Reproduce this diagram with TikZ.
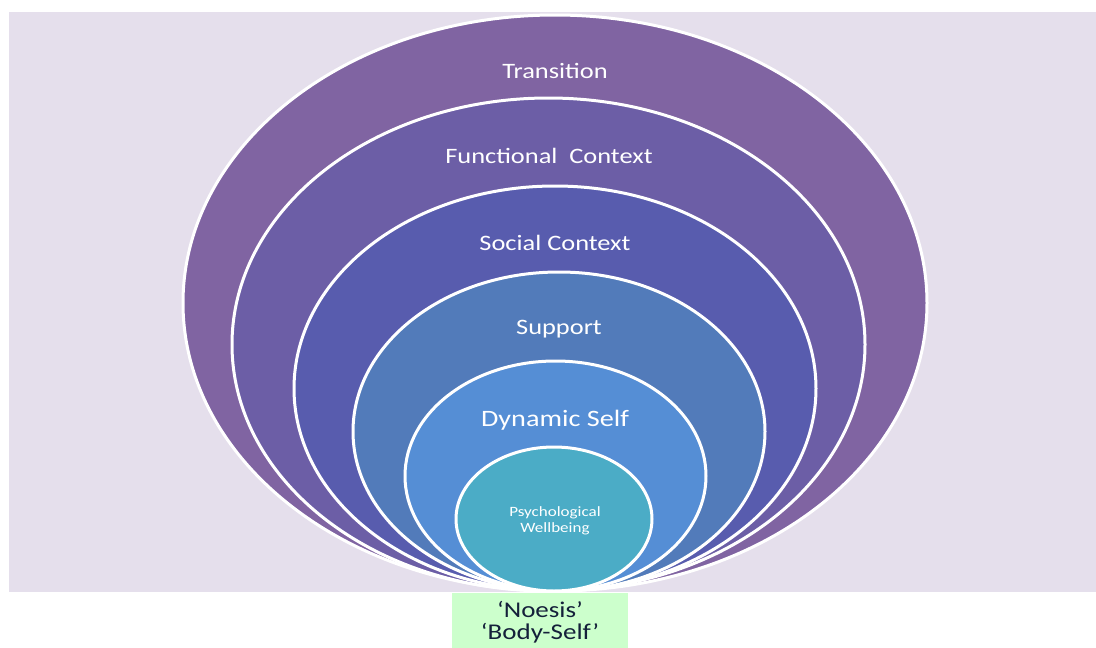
\documentclass[tikz,border=0pt]{standalone}
\usepackage{fontspec}
\setmainfont{Carlito}
\usetikzlibrary{shapes.geometric}
\definecolor{bgc}{HTML}{E5DFEC}
\definecolor{c1}{HTML}{8064A2}
\definecolor{c2}{HTML}{6C5EA6}
\definecolor{c3}{HTML}{585CAE}
\definecolor{c4}{HTML}{527BBA}
\definecolor{c5}{HTML}{558ED5}
\definecolor{c6}{HTML}{4BACC6}
\definecolor{gbox}{HTML}{CCFFCC}
\definecolor{navy}{HTML}{14203A}
\tikzset{
  ring/.style={ellipse, draw=white, line width=3pt, inner sep=0pt, outer sep=0pt},
  lbl/.style={text=white, font=\fontsize{22}{26}\selectfont, inner sep=0pt},
}
\newcommand{\wide}[1]{\scalebox{1.2}[1]{#1}}
\begin{document}
\begin{tikzpicture}[x=1pt,y=-1pt]
\useasboundingbox (0,0) rectangle (1096,648);
\fill[bgc] (9,12) rectangle (1096,592);
\node[ring, fill=c1, minimum width=744pt, minimum height=576pt] (e1) at (555,303) {};
\node[ring, fill=c2, minimum width=633pt, minimum height=493pt] (e2) at (548.5,344.5) {};
\node[ring, fill=c3, minimum width=522pt, minimum height=405pt] (e3) at (555,388.5) {};
\node[ring, fill=c4, minimum width=412pt, minimum height=319pt] (e4) at (559,431.5) {};
\node[ring, fill=c5, minimum width=301pt, minimum height=230pt] (e5) at (555.5,476) {};
\node[ring, fill=c6, minimum width=196pt, minimum height=144pt] (e6) at (554,519) {};
\node[lbl] (t1) at (555,71) {\wide{Transition}};
\node[lbl] (t2) at (549,156) {\wide{Functional\ \ Context}};
\node[lbl] (t3) at (555,243) {\wide{Social Context}};
\node[lbl] (t4) at (559,329.5) {\wide{Support}};
\node[lbl, font=\fontsize{23.5}{28}\selectfont] (t5) at (555,420.5) {\wide{Dynamic Self}};
\node[lbl, font=\fontsize{14.2}{15.5}\selectfont, align=center] (t6) at (555,521) {\wide{Psychological}\\\wide{Wellbeing}};
\node[fill=gbox, minimum width=176pt, minimum height=55pt, inner sep=0pt, anchor=north west] (g) at (452,593) {};
\node[text=navy, font=\fontsize{22.5}{22}\selectfont, align=center, inner sep=0pt] (gt) at (540,622.5) {\wide{‘Noesis’}\\\wide{‘Body-Self’}};
\end{tikzpicture}
\end{document}
